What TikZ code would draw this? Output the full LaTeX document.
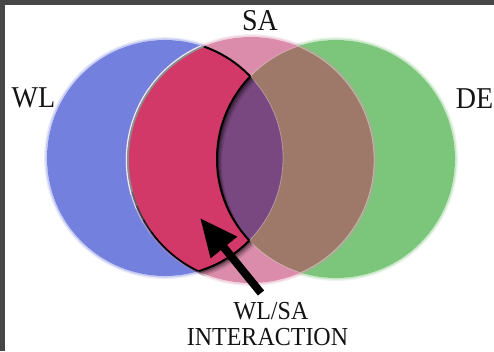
\documentclass[tikz,border=0pt]{standalone}
\usepackage{fontspec}
\setmainfont{Liberation Serif}
\usetikzlibrary{arrows.meta}

\definecolor{wlblue}{RGB}{116,128,222}
\definecolor{degreen}{RGB}{124,198,124}
\definecolor{sapink}{RGB}{218,140,170}
\definecolor{sabrown}{RGB}{158,120,105}
\definecolor{tripurple}{RGB}{122,72,128}
\definecolor{hotpink}{RGB}{210,56,104}
\definecolor{framegray}{RGB}{71,71,71}

% circle centres and radii
\def\Cb{165,193}\def\rb{118}
\def\Cp{251,191}\def\rp{123}
\def\Cg{336,192}\def\rg{119}

\begin{document}
\begin{tikzpicture}[x=1pt,y=1pt,
  biglabel/.style={font=\fontsize{28}{30}\selectfont, inner sep=0pt, anchor=base, text=black!92,
    transform shape, yscale=1.08},
  smalllabel/.style={font=\fontsize{24}{28}\selectfont, inner sep=0pt, anchor=base, text=black!92,
    transform shape, yscale=1.08},
  rim/.style={draw=white, opacity=.35, line width=.8pt},
  edge/.style={draw=black, line width=2pt},
  bigarrow/.style={line width=8pt, -{Triangle[length=38pt,width=32pt]}}]

\useasboundingbox (0,0) rectangle (494,351);
\fill[white] (0,0) rectangle (494,351);
\fill[framegray] (0,0) rectangle (5,351);
\fill[framegray] (0,346) rectangle (494,351);

% the three discs, each with a soft outer fringe
\foreach \c/\r/\col in {\Cb/\rb/wlblue, \Cg/\rg/degreen, \Cp/\rp/sapink}{
  \draw[\col, opacity=.15, line width=1.5pt] (\c) circle[radius=\r+2.2];
  \draw[\col, opacity=.4, line width=1.5pt] (\c) circle[radius=\r+.8];
  \fill[\col] (\c) circle[radius=\r];
}
\begin{scope}
  \clip (\Cp) circle[radius=\rp];
  \fill[sabrown] (\Cg) circle[radius=\rg];
  \clip (\Cb) circle[radius=\rb];
  \fill[tripurple] (\Cg) circle[radius=\rg];
\end{scope}
% pale seams where the discs overlap
\begin{scope}
  \clip (\Cg) circle[radius=\rg];
  \path[rim] (\Cp) circle[radius=\rp];
\end{scope}
\begin{scope}
  \clip (\Cp) circle[radius=\rp];
  \path[rim] (\Cb) circle[radius=\rb] (\Cg) circle[radius=\rg];
\end{scope}

% soft shadow of the crescent
\foreach \d/\o in {5/.12,3.5/.2,2/.3}{
  \begin{scope}[shift={(\d,-\d)}, even odd rule]
    \clip (\Cp) circle[radius=\rp];
    \clip (\Cb) circle[radius=\rb];
    \fill[black, opacity=\o] (-30,-30) rectangle (530,390) (\Cg) circle[radius=\rg];
  \end{scope}
}

% crescent: WL and SA, outside DE
\begin{scope}[even odd rule]
  \clip (\Cp) circle[radius=\rp];
  \clip (\Cb) circle[radius=\rb];
  \fill[hotpink] (-30,-30) rectangle (530,390) (\Cg) circle[radius=\rg];
  \draw[edge] (\Cg) circle[radius=\rg];
\end{scope}
\begin{scope}[even odd rule]
  \clip (\Cp) circle[radius=\rp];
  \clip (-30,-30) rectangle (530,390) (\Cg) circle[radius=\rg];
  \draw[edge] (\Cb) circle[radius=\rb];
\end{scope}
% outer rim of the crescent: bevelled above, dark below
\begin{scope}
  \clip (\Cb) circle[radius=\rb];
  \foreach \a/\b/\o in {100/196/.85, 195/203/.6, 202/210/.35, 209/217/.15}{
    \draw[white, opacity=\o, line width=1.3pt]
      ([shift={(\a:\rp+1.6)}]\Cp) arc[start angle=\a, end angle=\b, radius=\rp+1.6];
  }
  \foreach \a/\b/\k in {100/196/45, 195/203/60, 202/210/75, 209/217/88, 216/260/100}{
    \draw[black!\k, line width=1.7pt]
      ([shift={(\a:\rp)}]\Cp) arc[start angle=\a, end angle=\b, radius=\rp];
  }
\end{scope}

% labels
\node[biglabel] (sa) at (260,320) {SA};
\node[biglabel] (wl) at (33.5,243) {WL};
\node[biglabel] (de) at (474.5,242) {DE};
\node[smalllabel] (lineone) at (271,32) {WL/SA};
\node[smalllabel] (linetwo) at (267.5,6) {INTERACTION};

% pointer
\coordinate (tail) at (261,58);
\coordinate (tip) at (200,133);
\draw[bigarrow] (tail) -- (tip);
\end{tikzpicture}
\end{document}
